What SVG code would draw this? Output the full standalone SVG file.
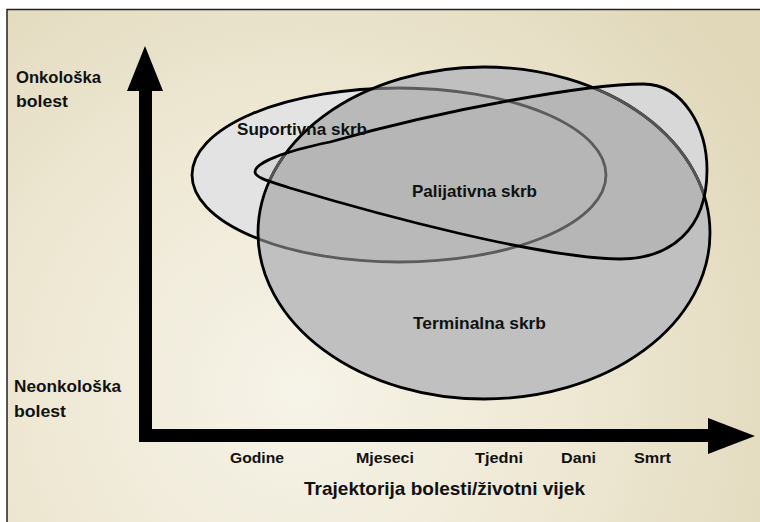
<svg xmlns="http://www.w3.org/2000/svg" width="760" height="522" viewBox="0 0 760 522">
  <defs>
    <radialGradient id="bg" cx="300" cy="390" r="540" gradientUnits="userSpaceOnUse">
      <stop offset="0" stop-color="#f6f3e8"/>
      <stop offset="0.5" stop-color="#eee8d4"/>
      <stop offset="1" stop-color="#e1d8ba"/>
    </radialGradient>
    <ellipse id="termShape" cx="484" cy="233" rx="226" ry="166"/>
    <ellipse id="supShape" cx="399" cy="175" rx="207" ry="87"/>
    <path id="palShape" d="M 330 142 C 450 108 590 84 643 84 C 685 84 707 130 707 170 C 707 230 670 259 620 259 C 540 258 380 215 290 188 C 272 182 255 178 255 172 C 255 163 282 152 330 142 Z"/>
    <clipPath id="clipTerm"><use href="#termShape"/></clipPath>
    <clipPath id="clipPal"><use href="#palShape"/></clipPath>
  </defs>
  <style>
    text { font-family: "Liberation Sans", Arial, sans-serif; font-weight: bold; fill: #111; }
    .lbl { font-size: 17px; }
    .tick { font-size: 15.5px; }
    .title { font-size: 18.5px; }
    .edge { fill: none; stroke-width: 2.8; }
  </style>
  <rect x="0" y="0" width="760" height="522" fill="#ffffff"/>
  <rect x="7" y="9.5" width="780" height="540" fill="url(#bg)" stroke="#222" stroke-width="1.5"/>

  <g id="suportivna">
    <use href="#supShape" fill="#e3e3e3" stroke="#000" stroke-width="2.8"/>
  </g>
  <g id="terminalna">
    <use href="#termShape" fill="#c0c0c0"/>
    <use href="#supShape" fill="#b9b9b9" clip-path="url(#clipTerm)"/>
  </g>
  <g id="palijativna">
    <use href="#palShape" fill="#d8d8d8"/>
    <use href="#termShape" fill="#b6b6b6" clip-path="url(#clipPal)"/>
    <use href="#supShape" class="edge" stroke="#5c5c5c" clip-path="url(#clipTerm)"/>
    <use href="#termShape" class="edge" stroke="#000"/>
    <use href="#termShape" class="edge" stroke="#555" clip-path="url(#clipPal)"/>
    <use href="#palShape" class="edge" stroke="#000"/>
  </g>

  <g id="connectors">
    <rect x="139" y="88" width="13" height="354" fill="#000"/>
    <polygon points="127,91 163,91 145,46" fill="#000"/>
    <rect x="139" y="429" width="572" height="13" fill="#000"/>
    <polygon points="708,418 708,454 755,436" fill="#000"/>
  </g>

  <g id="labels">
    <text class="lbl" x="237" y="135" textLength="130" lengthAdjust="spacingAndGlyphs">Suportivna skrb</text>
    <text class="lbl" x="412" y="197" textLength="125" lengthAdjust="spacingAndGlyphs">Palijativna skrb</text>
    <text class="lbl" x="413" y="329" textLength="133" lengthAdjust="spacingAndGlyphs">Terminalna skrb</text>
  </g>
  <g id="y-axis-labels">
    <text class="lbl" x="16" y="83" textLength="85" lengthAdjust="spacingAndGlyphs">Onkološka</text>
    <text class="lbl" x="16" y="107" textLength="52" lengthAdjust="spacingAndGlyphs">bolest</text>
    <text class="lbl" x="14" y="392" textLength="107" lengthAdjust="spacingAndGlyphs">Neonkološka</text>
    <text class="lbl" x="14" y="417" textLength="52" lengthAdjust="spacingAndGlyphs">bolest</text>
  </g>
  <g id="x-axis-labels">
    <text class="tick" x="230" y="463" textLength="54" lengthAdjust="spacingAndGlyphs">Godine</text>
    <text class="tick" x="356" y="463" textLength="58" lengthAdjust="spacingAndGlyphs">Mjeseci</text>
    <text class="tick" x="475" y="463" textLength="48" lengthAdjust="spacingAndGlyphs">Tjedni</text>
    <text class="tick" x="561" y="463" textLength="35" lengthAdjust="spacingAndGlyphs">Dani</text>
    <text class="tick" x="634" y="463" textLength="37" lengthAdjust="spacingAndGlyphs">Smrt</text>
    <text class="title" x="304" y="495" textLength="281" lengthAdjust="spacingAndGlyphs">Trajektorija bolesti/životni vijek</text>
  </g>
</svg>
